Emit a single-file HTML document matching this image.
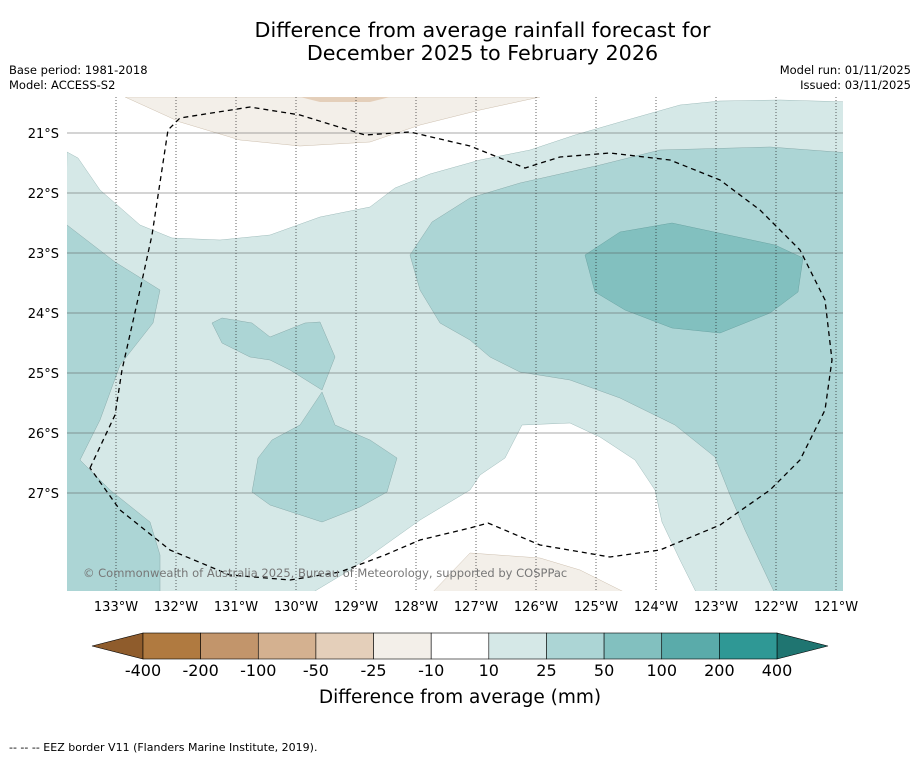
<!DOCTYPE html>
<html><head><meta charset="utf-8"><style>
body{margin:0;background:#fff;font-family:"DejaVu Sans",sans-serif;}
#w{position:relative;width:919px;height:758px;overflow:hidden;background:#fff}
.t{position:absolute;white-space:nowrap;color:#000}
</style></head><body>
<div id="w">
<div class="t" style="left:0;width:965px;top:19px;text-align:center;font-size:20.7px;line-height:23px">Difference from average rainfall forecast for<br>December 2025 to February 2026</div>
<div class="t" style="left:9px;top:63px;font-size:11.5px;line-height:15px">Base period: 1981-2018<br>Model: ACCESS-S2</div>
<div class="t" style="right:8px;top:63px;font-size:11.5px;line-height:15px;text-align:right">Model run: 01/11/2025<br>Issued: 03/11/2025</div>
<svg id="s" width="919" height="758" style="position:absolute;left:0;top:0">
<defs><clipPath id="c"><rect x="67" y="97" width="776" height="494"/></clipPath></defs>
<g clip-path="url(#c)">
<rect x="67" y="97" width="776" height="494" fill="#fff"/>
<path fill="#d5e8e7" stroke="#9fbcbb" stroke-width="0.5" d="M67,152 L78,158 L100,190 L140,225 L172,238 L220,240 L270,235 L320,217 L370,207 L395,188 L430,174 L480,160 L530,150 L575,135 L620,122 L680,105 L720,101 L780,100 L850,102 L850,600 L700,600 L680,560 L662,522 L655,490 L635,460 L600,437 L570,423 L522,425 L505,458 L480,475 L470,490 L420,520 L350,570 L300,600 L60,600 Z"/>
<path fill="#f3efe9" stroke="#cdbfae" stroke-width="0.5" d="M125,97 L180,122 L240,140 L300,146 L370,142 L420,125 L480,110 L540,97 Z"/>
<path fill="#e4cfba" d="M300,97 L320,102 L370,102 L390,97 Z"/>
<path fill="#f3efe9" stroke="#cdbfae" stroke-width="0.5" d="M430,595 L470,553 L540,558 L580,570 L630,595 Z"/>
<path fill="#acd5d5" stroke="#88aaaa" stroke-width="0.5" d="M410,255 L432,222 L470,198 L520,183 L600,165 L660,150 L770,147 L850,153 L850,600 L778,600 L745,530 L730,495 L715,457 L675,425 L620,398 L570,380 L520,372 L490,357 L470,340 L440,323 L420,290 Z"/>
<path fill="#82c0bf" stroke="#6aa3a2" stroke-width="0.5" d="M585,255 L620,232 L672,223 L775,245 L803,258 L798,292 L770,313 L720,333 L672,328 L625,310 L595,292 Z"/>
<path fill="#acd5d5" stroke="#88aaaa" stroke-width="0.5" d="M60,225 L67,225 L115,262 L160,290 L153,323 L120,365 L100,420 L80,460 L110,490 L150,522 L160,555 L160,600 L60,600 Z"/>
<path fill="#acd5d5" stroke="#88aaaa" stroke-width="0.5" d="M212,323 L222,318 L252,323 L270,337 L305,323 L320,322 L335,357 L322,390 L290,370 L270,360 L250,357 L222,343 Z"/>
<path fill="#acd5d5" stroke="#88aaaa" stroke-width="0.5" d="M322,392 L335,425 L370,440 L397,458 L387,492 L360,507 L322,522 L270,505 L252,492 L258,458 L272,440 L300,425 Z"/>
<g id="grid"></g>
<path fill="none" stroke="#000" stroke-width="1.3" stroke-dasharray="5,4" d="M90,468 L115,415 L122,370 L140,290 L152,235 L168,130 L180,118 L250,107 L300,115 L365,135 L410,132 L470,146 L525,168 L560,157 L610,153 L670,160 L720,180 L760,210 L800,250 L825,300 L832,360 L825,410 L800,460 L770,490 L720,525 L660,550 L610,557 L540,545 L488,523 L470,528 L420,540 L385,555 L340,572 L290,580 L230,575 L170,550 L120,510 Z"/>
<text x="83" y="577" font-size="11.5" fill="#777" font-family="DejaVu Sans,sans-serif">© Commonwealth of Australia 2025, Bureau of Meteorology, supported by COSPPac</text>
</g>
<g id="axes"></g>
<g id="cbar"></g>
<text x="460" y="703" text-anchor="middle" font-size="18.5" font-family="DejaVu Sans,sans-serif">Difference from average (mm)</text>
<text x="9" y="751" font-size="11" font-family="DejaVu Sans,sans-serif">--  --  -- EEZ border V11 (Flanders Marine Institute, 2019).</text>
</svg>
</div>
<script>
const lonTicks=[133,132,131,130,129,128,127,126,125,124,123,122,121];
const latTicks=[21,22,23,24,25,26,27];
const cbLabels=["-400","-200","-100","-50","-25","-10","10","25","50","100","200","400"];
const cbColors=["#b07a40","#c2956b","#d4b190","#e4cfba","#f3efe9","#ffffff","#d5e8e7","#acd5d5","#82c0bf","#5aabaa","#2f9895"];
const lowColor="#8f5c2c", highColor="#1f7571";
const NS="http://www.w3.org/2000/svg";
const xLon=l=>116+(133-l)*60, yLat=l=>133+(l-21)*60;
function mk(t,a,p){const e=document.createElementNS(NS,t);for(const k in a)e.setAttribute(k,a[k]);p.appendChild(e);return e;}
const grid=document.getElementById('grid'),axes=document.getElementById('axes'),cb=document.getElementById('cbar');
lonTicks.forEach(l=>{const x=xLon(l);
 const g=mk('line',{x1:x,x2:x,y1:97,y2:591,stroke:'#222','stroke-width':0.7,'stroke-dasharray':'1,2'},grid);
 
 
 const t=mk('text',{x:x,y:611,'text-anchor':'middle','font-size':13,'font-family':'DejaVu Sans,sans-serif'},axes);t.textContent=l+'°W';
 
 });
latTicks.forEach(l=>{const y=yLat(l);
 const g=mk('line',{x1:67,x2:843,y1:y,y2:y,stroke:'#555','stroke-width':0.6},grid);
 
 
 const t=mk('text',{x:59,y:y+5,'text-anchor':'end','font-size':13,'font-family':'DejaVu Sans,sans-serif'},axes);t.textContent=l+'°S';
 
 });
const x0=143,x1=777,y0=633,h=26,bw=(x1-x0)/cbColors.length;
const lt=mk('polygon',{points:`${x0},${y0} ${x0},${y0+h} 92,${y0+h/2}`,fill:lowColor,stroke:'#000','stroke-width':0.6},cb);


const rt=mk('polygon',{points:`${x1},${y0} ${x1},${y0+h} 828,${y0+h/2}`,fill:highColor,stroke:'#000','stroke-width':0.6},cb);


cbColors.forEach((c,i)=>{const r=mk('rect',{x:x0+i*bw,y:y0,width:bw,height:h,fill:c,stroke:'#000','stroke-width':0.6},cb);
 
 });
cbLabels.forEach((s,i)=>{const t=mk('text',{x:x0+i*bw,y:676,'text-anchor':'middle','font-size':16,'font-family':'DejaVu Sans,sans-serif'},cb);t.textContent=s;
 
 });
</script>
</body></html>
